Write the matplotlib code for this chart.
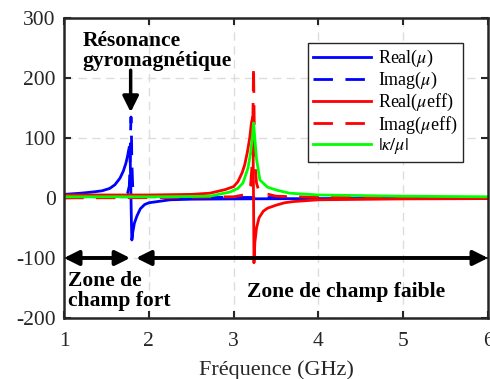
import matplotlib
matplotlib.use('Agg')
import matplotlib.pyplot as plt

plt.rcParams['font.family'] = 'Liberation Serif'
plt.rcParams['mathtext.fontset'] = 'stix'
plt.rcParams['axes.unicode_minus'] = False

# Real(mu) - bleu plein
f_re_mu = [1.0, 1.2, 1.34, 1.45, 1.54, 1.6, 1.66, 1.7, 1.73, 1.75, 1.76, 1.77, 1.775, 1.78,
           1.785, 1.79, 1.795, 1.80, 1.805, 1.81, 1.83, 1.86, 1.9, 1.95, 2.0, 2.25, 2.5, 3.0,
           4.0, 5.0, 6.0]
re_mu = [6, 8, 10, 12, 16, 22, 33, 45, 58, 70, 78, 85, 84, 70,
         35, 0, -40, -70, -66, -58, -42, -30, -18, -11, -8, -3, -2, -1.5,
         -1, -0.8, -0.5]

# Imag(mu) - bleu tirets
f_im_mu = [1.0, 1.5, 1.7, 1.75, 1.77, 1.78, 1.785, 1.79, 1.795, 1.80, 1.81, 1.83, 1.9, 2.5, 6.0]
im_mu = [0.5, 1, 3, 8, 20, 60, 110, 135, 110, 60, 20, 8, 3, 1, 0.3]

# Real(mu_eff) - rouge plein
f_re_eff = [1.0, 1.5, 2.0, 2.5, 2.72, 2.9, 3.0, 3.05, 3.1, 3.13, 3.16, 3.19, 3.21, 3.225,
            3.23, 3.235, 3.24, 3.245, 3.25, 3.27, 3.3, 3.35, 3.4, 3.5, 3.6, 3.7, 4.0, 5.0, 6.0]
re_eff = [5, 5, 5, 6, 8, 14, 19, 27, 42, 55, 75, 100, 125, 135,
          80, 0, -108, -95, -75, -50, -33, -22, -17, -12, -8, -6, -3, -1.5, -1]

# Imag(mu_eff) - rouge tirets
f_im_eff = [1.0, 2.0, 3.0, 3.15, 3.2, 3.22, 3.23, 3.235, 3.24, 3.25, 3.27, 3.3, 3.5, 4.0, 6.0]
im_eff = [0.2, 0.5, 2, 6, 20, 60, 160, 220, 160, 60, 25, 10, 3, 1, 0.3]

# |kappa/mu| - vert
f_kappa = [1.0, 1.5, 2.0, 2.5, 2.72, 2.96, 3.05, 3.11, 3.17, 3.2, 3.22, 3.235, 3.25, 3.27,
           3.31, 3.4, 3.51, 3.66, 4.0, 5.0, 6.0]
kappa = [2, 2, 2, 2.5, 3, 10, 16, 25, 50, 75, 100, 125, 100, 65,
         30, 18, 13, 8, 5, 3, 2]

fig = plt.figure(figsize=(4.9, 3.79), dpi=100)
ax = fig.add_axes([0.1306, 0.161, 0.8654, 0.7915])

lw = 2.0
dash = (0, (7, 4.5))
ax.plot(f_re_mu, re_mu, color='#0000ff', lw=lw, label=r'Real($\mu$)')
ax.plot(f_im_mu, im_mu, color='#0000ff', lw=lw, ls=dash, label=r'Imag($\mu$)')
ax.plot(f_re_eff, re_eff, color='#ff0000', lw=lw, label=r'Real($\mu$eff)')
ax.plot(f_im_eff, im_eff, color='#ff0000', lw=lw, ls=dash, label=r'Imag($\mu$eff)')
ax.plot(f_kappa, kappa, color='#00ff00', lw=lw, label=r'$|\kappa/\mu|$')

ax.set_xlim(1, 6)
ax.set_ylim(-200, 300)
ax.set_xticks([1, 2, 3, 4, 5, 6])
ax.set_yticks([-200, -100, 0, 100, 200, 300])
ax.tick_params(direction='in', top=True, right=True, labelsize=15.5, length=5, width=1.5,
               colors='#262626')
ax.tick_params(axis='x', pad=10)
ax.tick_params(axis='y', pad=6)
ax.grid(True, ls=(0, (6, 4)), color='#dddddd', lw=1.0)
for s in ax.spines.values():
    s.set_linewidth(1.8)
    s.set_color('#262626')
ax.set_xlabel('Fréquence (GHz)', fontsize=16, color='#262626', labelpad=7)

leg = ax.legend(loc='upper right', bbox_to_anchor=(0.941, 0.917), borderaxespad=0,
                fontsize=13, frameon=True, fancybox=False, edgecolor='#262626',
                handlelength=3.2, borderpad=0.3, labelspacing=0.05, handletextpad=0.4,
                framealpha=1)
leg.get_frame().set_linewidth(1.0)

# flèches des zones
arrow_kw = dict(arrowstyle='<|-|>', color='black', lw=2.8, mutation_scale=22,
                shrinkA=0, shrinkB=0)
ax.annotate('', xy=(1.0, -100), xytext=(1.78, -100), arrowprops=arrow_kw)
ax.annotate('', xy=(1.85, -100), xytext=(6.0, -100), arrowprops=arrow_kw)
ax.text(1.05, -122, 'Zone de\nchamp fort', fontsize=15.5, fontweight='bold',
        va='top', ha='left', linespacing=1.0)
ax.text(4.33, -157, 'Zone de champ faible', fontsize=15.5, fontweight='bold',
        va='center', ha='center')

ax.text(1.22, 278, 'Résonance\ngyromagnétique', fontsize=15.5, fontweight='bold',
        va='top', ha='left', linespacing=1.0)
ax.annotate('', xy=(1.786, 143), xytext=(1.786, 213),
            arrowprops=dict(arrowstyle='-|>', color='black', lw=2.5, mutation_scale=24,
                            shrinkA=0, shrinkB=0))

fig.savefig('out.png', dpi=100)
